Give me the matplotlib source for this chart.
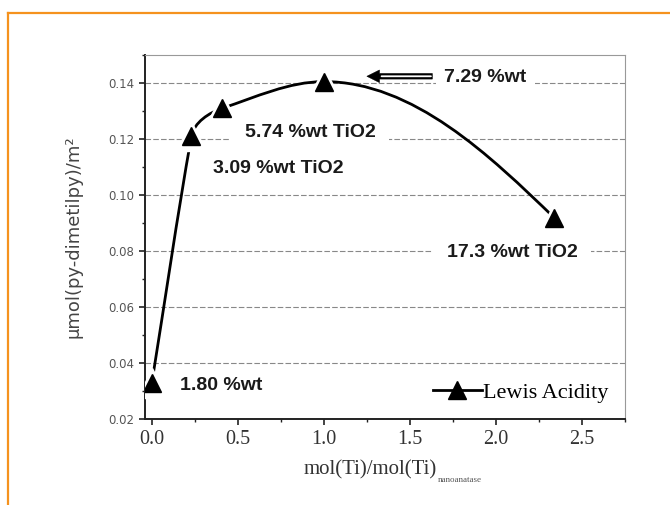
import numpy as np
import matplotlib
matplotlib.use("Agg")
import matplotlib.pyplot as plt
from matplotlib.path import Path
from matplotlib.patches import PathPatch
from matplotlib.lines import Line2D
from matplotlib.ticker import AutoMinorLocator

# data
ti_ratio = [0.0, 0.23, 0.41, 1.0, 2.34]
lewis_acidity = [0.033, 0.121, 0.131, 0.1405, 0.0918]
x_ticks = [0.0, 0.5, 1.0, 1.5, 2.0, 2.5]
y_ticks = [0.02, 0.04, 0.06, 0.08, 0.10, 0.12, 0.14]
x_tick_labels = ["0.0", "0.5", "1.0", "1.5", "2.0", "2.5"]
y_tick_labels = ["0.02", "0.04", "0.06", "0.08", "0.10", "0.12", "0.14"]
point_labels = ["1.80 %wt", "3.09 %wt TiO2", "5.74 %wt TiO2", "7.29 %wt", "17.3 %wt TiO2"]

ORANGE = "#F5921E"


def smooth_path(ax, xs, ys):
    # spline-like connection (bezier through the points), built in pixel space
    pts = ax.transData.transform(np.column_stack([xs, ys]))
    n = len(pts)
    seg = np.linalg.norm(np.diff(pts, axis=0), axis=1)
    out_ctrl = [None] * n
    in_ctrl = [None] * n
    for i in range(1, n - 1):
        dy_prev = pts[i, 1] - pts[i - 1, 1]
        dy_next = pts[i + 1, 1] - pts[i, 1]
        if dy_prev * dy_next < 0:
            t = np.array([np.sign(pts[i + 1, 0] - pts[i - 1, 0]), 0.0])
        else:
            # the longer neighbouring segment decides the direction most
            t = seg[i - 1] * (pts[i] - pts[i - 1]) + seg[i] * (pts[i + 1] - pts[i])
        t = t / np.linalg.norm(t)
        out_ctrl[i] = pts[i] + t * seg[i] / 3
        in_ctrl[i] = pts[i] - t * seg[i - 1] / 3
    # first end leaves along the chord, last end bends in like a natural spline
    out_ctrl[0] = pts[0] + (pts[1] - pts[0]) / 3
    dn = pts[-1] - out_ctrl[-2]
    in_ctrl[-1] = pts[-1] - dn / np.linalg.norm(dn) * seg[-1] / 3
    verts = [pts[0]]
    codes = [Path.MOVETO]
    for i in range(n - 1):
        verts += [out_ctrl[i], in_ctrl[i + 1], pts[i + 1]]
        codes += [Path.CURVE4] * 3
    verts = ax.transData.inverted().transform(np.array(verts))
    return Path(verts, codes)


fig = plt.figure(figsize=(6.7, 5.05), dpi=100)
ax = fig.add_axes([145 / 670, 1 - 419 / 505, 480 / 670, 364 / 505])

ax.set_xlim(-0.04, 2.75)
ax.set_ylim(0.02, 0.15)

ax.set_xticks(x_ticks)
ax.set_xticklabels(x_tick_labels, family="Liberation Serif", fontsize=14.5, color="#333333")
ax.set_yticks(y_ticks)
ax.set_yticklabels(y_tick_labels, family="DejaVu Sans", fontsize=8.5, color="#555555")
ax.xaxis.set_minor_locator(AutoMinorLocator(2))
ax.yaxis.set_minor_locator(AutoMinorLocator(2))
ax.tick_params(which="major", direction="out", length=4, width=1.2, color="#222222")
ax.tick_params(which="minor", direction="out", length=2.5, width=1.0, color="#222222")
ax.tick_params(axis="x", pad=4)
ax.tick_params(axis="y", pad=4)

for side in ["left", "bottom"]:
    ax.spines[side].set_linewidth(1.4)
    ax.spines[side].set_color("#222222")
for side in ["top", "right"]:
    ax.spines[side].set_linewidth(0.8)
    ax.spines[side].set_color("#999999")

ax.yaxis.grid(True, linestyle=(0, (5, 2)), color="#888888", linewidth=0.8)
ax.set_axisbelow(True)

# smooth connecting curve, then markers with a white halo (gap around points)
curve = PathPatch(smooth_path(ax, ti_ratio, lewis_acidity), facecolor="none",
                  edgecolor="black", linewidth=2.0, zorder=4)
ax.add_patch(curve)
ax.plot(ti_ratio, lewis_acidity, linestyle="none", marker="^", markersize=22,
        color="white", zorder=5)
ax.plot(ti_ratio, lewis_acidity, linestyle="none", marker="^", markersize=13,
        color="black", zorder=6)

# point annotations
label_font = dict(family="Liberation Sans", fontweight="bold", fontsize=14,
                  color="#1a1a1a", va="center", ha="left")
ax.text(0.163, 0.0318, point_labels[0], **label_font)
ax.text(0.355, 0.1093, point_labels[1], **label_font)
ax.text(0.54, 0.1223, point_labels[2],
        bbox=dict(facecolor="white", edgecolor="none", pad=10), **label_font)
ax.text(1.70, 0.1420, point_labels[3],
        bbox=dict(facecolor="white", edgecolor="none", pad=6), **label_font)
ax.text(1.715, 0.0796, point_labels[4],
        bbox=dict(facecolor="white", edgecolor="none", pad=10), **label_font)

# hollow-shaft arrow pointing at the 7.29 %wt point
ax.annotate("", xy=(1.25, 0.1424), xytext=(1.63, 0.1424),
            arrowprops=dict(arrowstyle="simple,head_length=0.9,head_width=0.9,tail_width=0.4",
                            facecolor="black", edgecolor="black", linewidth=0.4,
                            shrinkA=0, shrinkB=0),
            zorder=7)
ax.annotate("", xy=(1.335, 0.1424), xytext=(1.622, 0.1424),
            arrowprops=dict(arrowstyle="-", color="white", linewidth=1.3,
                            shrinkA=0, shrinkB=0),
            zorder=8)

# legend
handle = Line2D([], [], color="black", linewidth=2, marker="^", markersize=13)
ax.legend([handle], ["Lewis Acidity"], loc="center right", bbox_to_anchor=(0.965, 0.072),
          frameon=False, borderpad=0, borderaxespad=0, handlelength=2.2, handletextpad=0.05,
          prop=dict(family="Liberation Serif", size=16))

# axis labels
ax.set_ylabel("\u00b5mol(py-dimetilpy)/m\u00b2", family="DejaVu Sans", fontsize=13,
              color="#444444")
ax.yaxis.set_label_coords(-(145 - 82) / 480, 0.5)
fig.text(437 / 670, 1 - 470 / 505, "mol(Ti)/mol(Ti)", family="Liberation Serif",
         fontsize=15, color="#333333", ha="right", va="center")
fig.text(438 / 670, 1 - 480 / 505, "nanoanatase", family="Liberation Serif",
         fontsize=6.5, color="#555555", ha="left", va="center")

# orange frame
fig.add_artist(Line2D([8 / 670, 1.0], [1 - 13 / 505, 1 - 13 / 505],
                      transform=fig.transFigure, color=ORANGE, linewidth=1.6))
fig.add_artist(Line2D([8 / 670, 8 / 670], [0.0, 1 - 13 / 505],
                      transform=fig.transFigure, color=ORANGE, linewidth=1.6))

fig.savefig("out.png", dpi=100)
